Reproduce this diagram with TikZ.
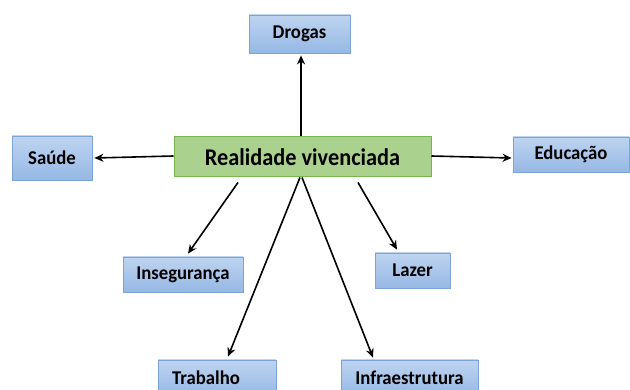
\documentclass[tikz,border=0pt]{standalone}
\usepackage{fontspec}
\setmainfont{Carlito}
\newfontfamily\centerfnt[FakeStretch=0.93]{Carlito}
\newfontfamily\leaffnt[FakeStretch=0.96]{Carlito}
\usetikzlibrary{arrows.meta}
\definecolor{gfill}{RGB}{170,210,142}
\definecolor{gline}{RGB}{120,180,80}
\definecolor{btop}{RGB}{190,212,240}
\definecolor{bbot}{RGB}{150,184,228}
\definecolor{bline}{RGB}{125,162,212}
\tikzset{
  mainbox/.style={draw=gline, line width=1pt, fill=gfill, inner sep=0pt, font=\centerfnt\bfseries\fontsize{24}{26}\selectfont},
  leaf/.style={draw=bline, line width=0.8pt, top color=btop, bottom color=bbot, inner sep=0pt, font=\leaffnt\bfseries\fontsize{19.5}{21}\selectfont},
  conn/.style={line width=1.6pt, -{Stealth[length=9pt,width=8pt]}}
}
\begin{document}
\begin{tikzpicture}[x=1pt,y=-1pt]
\useasboundingbox (0,0) rectangle (630,390);
\node[mainbox, minimum width=257pt, minimum height=40pt] (c) at (302.5,157) {Realidade vivenciada};
\node[leaf, minimum width=101pt, minimum height=38pt] (dro) at (299.5,34) {Drogas};
\node[leaf, minimum width=80pt, minimum height=44pt] (sau) at (52,158) {Saúde};
\node[leaf, minimum width=116pt, minimum height=35pt] (edu) at (571,154.5) {Educação};
\node[leaf, minimum width=120pt, minimum height=35pt] (ins) at (183,274.5) {Insegurança};
\node[leaf, minimum width=75pt, minimum height=35pt] (laz) at (412.5,270.5) {Lazer};
\node[leaf, minimum width=118pt, minimum height=36pt] (tra) at (217,378) {\hspace*{-22pt}Trabalho};
\node[leaf, minimum width=137pt, minimum height=36pt] (inf) at (409.5,378) {Infraestrutura};
\draw[conn] ([xshift=-1.5pt]c.north) -- ([xshift=1.5pt,yshift=-2pt]dro.south);
\draw[conn] ([yshift=1pt]c.west) -- ([xshift=2pt]sau.east);
\draw[conn] ([yshift=1pt]c.east) -- ([xshift=-1pt,yshift=-3.5pt]edu.west);
\draw[conn] ([xshift=-64.5pt,yshift=-5pt]c.south) -- ([xshift=5pt,yshift=3pt]ins.north);
\draw[conn] ([xshift=55.5pt,yshift=-5pt]c.south) -- ([xshift=-15.5pt,yshift=3pt]laz.north);
\draw[conn] ([xshift=-2.5pt]c.south) -- ([xshift=11pt,yshift=3pt]tra.north);
\draw[conn] ([xshift=-0.5pt]c.south) -- ([xshift=-36.5pt,yshift=2pt]inf.north);
\end{tikzpicture}
\end{document}
